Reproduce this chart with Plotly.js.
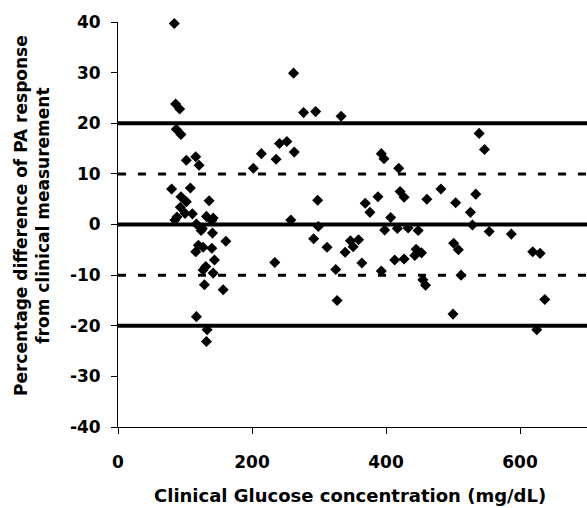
<!DOCTYPE html>
<html>
<head>
<meta charset="utf-8">
<script src="https://cdn.plot.ly/plotly-3.0.1.min.js"></script>
<style>html,body{margin:0;padding:0;background:#fff;}#chart{width:587px;height:508px;}</style>
</head>
<body>
<div id="chart"></div>
<script>
// Clinical glucose concentration (mg/dL)
const glucose = [
  84, 86, 92, 87, 94, 102, 116, 121, 80, 108, 94, 102, 136, 93, 88, 100, 111, 132, 142, 85,
  117, 140, 126, 124, 141, 161, 120, 116, 127, 140, 144, 131, 127, 142, 129, 157, 117, 133, 132,
  202, 214, 236, 241, 252, 263, 262, 277, 295, 333, 258, 298, 299, 292, 312, 234, 325, 327,
  339, 347, 351, 359, 364, 369, 376, 388,
  393, 397, 419, 421, 427, 407, 398, 417, 433, 448, 393, 413, 427, 445, 453, 443, 455, 459,
  461, 482, 504, 501, 508, 500, 512, 526, 529, 534, 539, 547, 554, 587, 619, 630, 625, 637
];
// Percentage difference of PA response from clinical measurement (%)
const pctDiff = [
  39.7, 23.8, 22.8, 18.8, 17.8, 12.7, 13.4, 11.7, 7.0, 7.2, 5.5, 4.5, 4.7, 3.4, 1.5, 2.2, 2.1, 1.6, 1.3, 0.9,
  0.1, 0.8, -0.8, -1.2, -1.7, -3.3, -4.1, -5.4, -4.5, -4.7, -7.0, -8.3, -9.0, -9.6, -11.9, -12.9, -18.2, -20.8, -23.1,
  11.1, 14.0, 12.9, 16.0, 16.4, 14.3, 29.9, 22.1, 22.3, 21.4, 0.9, 4.8, -0.4, -2.8, -4.5, -7.5, -8.9, -15.0,
  -5.5, -3.2, -4.4, -3.0, -7.6, 4.2, 2.4, 5.5,
  14.0, 13.0, 11.1, 6.5, 5.4, 1.4, -1.1, -0.8, -0.7, -1.2, -9.2, -7.0, -6.8, -4.9, -5.6, -6.1, -10.9, -12.0,
  5.0, 7.0, 4.3, -3.7, -5.0, -17.7, -10.0, 2.4, -0.1, 6.0, 18.0, 14.8, -1.4, -1.9, -5.4, -5.7, -20.8, -14.8
];
const xTicks = [0, 200, 400, 600];
const yTicks = [-40, -30, -20, -10, 0, 10, 20, 30, 40];
const yTickLabels = ['-40', '-30', '-20', '-10', '0', '10', '20', '30', '40'];
const solidRefs = [20, 0, -20];
const dashedRefs = [10, -10];

const FONT = 'DejaVu Sans';

const shapes = [];
solidRefs.forEach(v => shapes.push({
  type: 'line', xref: 'paper', x0: 0, x1: 1, yref: 'y', y0: v, y1: v,
  line: {color: '#000', width: 4}, layer: 'below'
}));
dashedRefs.forEach(v => shapes.push({
  type: 'line', xref: 'paper', x0: 0, x1: 1, yref: 'y', y0: v, y1: v,
  line: {color: '#000', width: 3, dash: '8px,12px'}, layer: 'below'
}));

const trace = {
  x: glucose, y: pctDiff, type: 'scatter', mode: 'markers',
  marker: {symbol: 'diamond', size: 8.5, color: '#000'},
  cliponaxis: false,
  hoverinfo: 'x+y'
};

const layout = {
  width: 587, height: 508,
  margin: {l: 118, r: 0, t: 22, b: 81, pad: 0},
  paper_bgcolor: '#fff', plot_bgcolor: '#fff',
  showlegend: false,
  font: {family: FONT, color: '#000'},
  xaxis: {
    range: [0, 700], tickvals: xTicks, ticktext: xTicks.map(String),
    showgrid: false, zeroline: false, showline: true, linecolor: '#000', linewidth: 1,
    ticks: 'outside', ticklen: 6, tickcolor: '#000', tickwidth: 1,
    tickfont: {family: FONT, size: 17, weight: 700, color: '#000'},
    ticklabelstandoff: 14
  },
  yaxis: {
    range: [-40, 40], tickvals: yTicks, ticktext: yTickLabels,
    showgrid: false, zeroline: false, showline: true, linecolor: '#000', linewidth: 1,
    ticks: 'outside', ticklen: 6, tickcolor: '#000', tickwidth: 1,
    tickfont: {family: FONT, size: 17, weight: 700, color: '#000'},
    ticklabelstandoff: 7
  },
  shapes: shapes,
  annotations: [
    {
      text: 'Percentage difference of PA response<br>from clinical measurement',
      xref: 'paper', yref: 'paper', x: (32 - 118) / 469, y: (427 - 216) / 405,
      xanchor: 'center', yanchor: 'middle', textangle: -90, showarrow: false,
      font: {family: FONT, size: 17, weight: 700, color: '#000'}
    },
    {
      text: 'Clinical Glucose concentration (mg/dL)',
      xref: 'paper', yref: 'paper', x: (350 - 118) / 469, y: (427 - 495) / 405,
      xanchor: 'center', yanchor: 'middle', showarrow: false,
      font: {family: FONT, size: 18, weight: 700, color: '#000'}
    }
  ]
};

Plotly.newPlot('chart', [trace], layout, {displayModeBar: false, staticPlot: true});
</script>
</body>
</html>
